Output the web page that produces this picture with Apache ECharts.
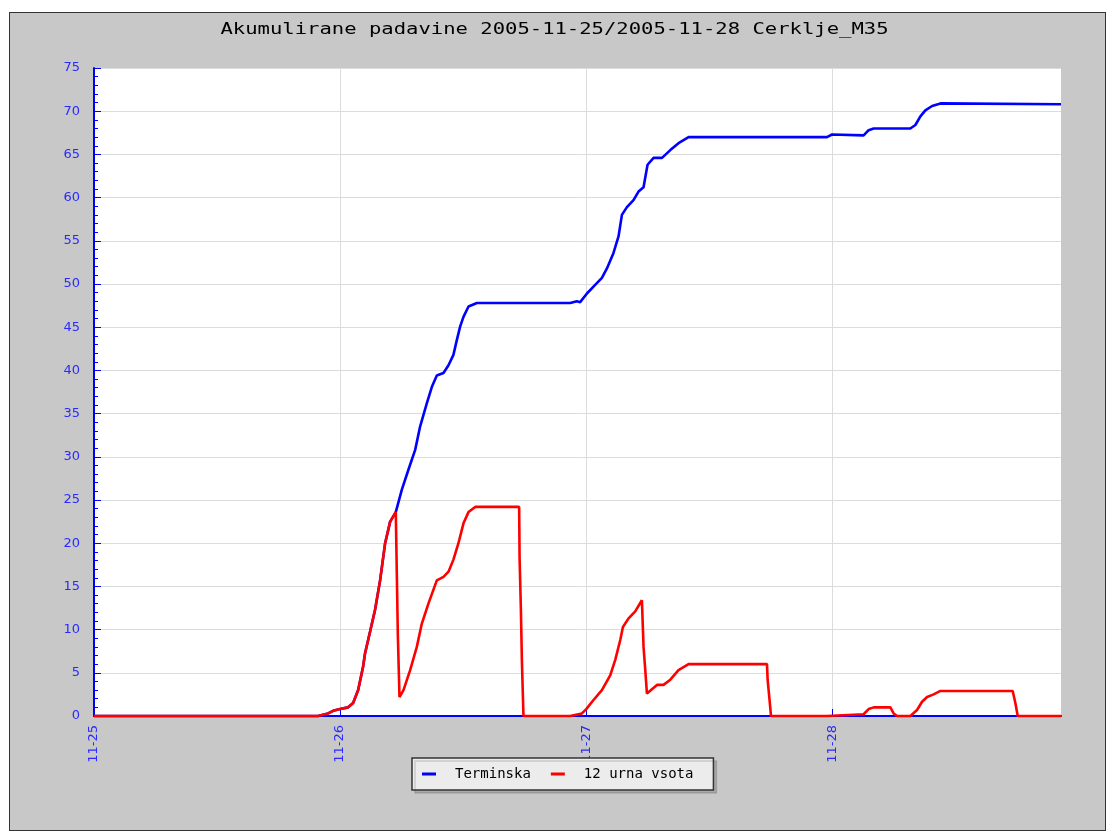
<!DOCTYPE html>
<html>
<head>
<meta charset="UTF-8">
<title>Akumulirane padavine</title>
<style>
    html, body { margin: 0; padding: 0; background: #fff; }
    #frame {
        position: absolute; left: 9px; top: 12px;
        width: 1095px; height: 817px;
        background: #c8c8c8; border: 1px solid #333;
    }
    #main { position: absolute; left: 0; top: 0; width: 1109px; height: 832px; }
</style>
</head>
<body>
<div id="frame"></div>
<div id="main"></div>
<script src="https://cdn.jsdelivr.net/npm/echarts@6/dist/echarts.min.js"></script>
<script>
// hours since 2005-11-25 00:00
var dayLabels = ['11-25', '11-26', '11-27', '11-28'];
var dayHours = [0, 24, 48, 72];

var terminskaHours = [0, 21.85, 21.88, 22.83, 23.32, 24.0, 24.78, 25.27, 25.76, 26.24, 26.44, 26.93, 27.41, 27.9, 28.39, 28.88, 29.43,
    29.53, 30.02, 30.66, 31.32, 31.8, 32.46, 32.95, 33.43, 34.08, 34.57, 35.05, 35.38, 35.71, 36.03, 36.52, 37.34,
    46.44, 47.09, 47.41, 48.07, 48.71, 49.53, 50.02, 50.66, 51.15, 51.48, 51.97, 52.61, 53.1, 53.59, 53.98, 54.57,
    55.39, 56.2, 57.0, 57.98, 71.48, 71.97, 75.05, 75.54, 76.03, 79.61, 80.1, 80.59, 81.07, 81.73, 82.54, 94.3];
var terminskaValues = [0, 0, 0.1, 0.3, 0.6, 0.8, 1.0, 1.5, 3.0, 5.7, 7.3, 9.8, 12.3, 15.7, 20.0, 22.5, 23.6,
    23.8, 26.2, 28.5, 30.8, 33.5, 36.2, 38.1, 39.4, 39.7, 40.6, 41.8, 43.5, 45.1, 46.2, 47.4, 47.8,
    47.8, 48.0, 47.9, 48.9, 49.7, 50.7, 51.8, 53.6, 55.5, 58.0, 58.9, 59.7, 60.7, 61.2, 63.8, 64.6,
    64.6, 65.5, 66.3, 67.0, 67.0, 67.3, 67.2, 67.8, 68.0, 68.0, 68.4, 69.4, 70.1, 70.6, 70.9, 70.8];

var vsotaHours = [0, 21.85, 21.88, 22.83, 23.32, 24.0, 24.78, 25.27, 25.76, 26.24, 26.44, 26.93, 27.41, 27.9, 28.39, 28.88, 29.43,
    29.53, 29.63, 29.79, 30.18, 30.83, 31.48, 31.97, 32.61, 33.43, 34.08, 34.57, 35.05, 35.54, 36.03, 36.52, 37.17,
    41.46, 41.5, 41.63, 41.73, 41.88, 46.44, 46.5, 47.58, 48.0, 48.71, 49.53, 50.34, 50.83, 51.32, 51.58, 52.13,
    52.78, 53.43, 53.59, 53.76, 53.92, 54.9, 55.54, 56.2, 57.0, 57.98, 65.63, 65.69, 65.88, 66.02, 71.48, 71.6,
    75.05, 75.54, 76.03, 77.66, 77.98, 78.31, 79.61, 80.26, 80.75, 81.24, 81.88, 82.54, 89.59, 89.85, 90.08, 94.3];
var vsotaValues = [0, 0, 0.1, 0.3, 0.6, 0.8, 1.0, 1.5, 3.0, 5.7, 7.3, 9.8, 12.3, 15.7, 20.0, 22.5, 23.6,
    16.5, 9.4, 2.2, 3.0, 5.3, 8.0, 10.7, 13.0, 15.7, 16.1, 16.7, 18.1, 20.0, 22.3, 23.6, 24.2,
    24.2, 18.4, 12.3, 6.3, 0, 0, 0.2, 0.3, 0.8, 1.85, 3.0, 4.7, 6.5, 8.8, 10.3, 11.3,
    12.1, 13.4, 8.0, 5.3, 2.6, 3.6, 3.6, 4.2, 5.3, 6.0, 6.0, 4.2, 1.85, 0, 0, 0.2,
    0.2, 0.8, 1.0, 1.0, 0.3, 0, 0, 0.7, 1.65, 2.2, 2.5, 2.9, 2.9, 1.5, 0, 0];

function zip(xs, ys) {
    var out = [];
    for (var i = 0; i < xs.length; i++) out.push([xs[i], ys[i]]);
    return out;
}

var myChart = echarts.init(document.getElementById('main'));
var mono = '"DejaVu Sans Mono", monospace';
var blue = '#0000ff';

var option = {
    backgroundColor: 'transparent',
    animation: false,
    graphic: [{
        type: 'text',
        left: 'center',
        top: 23,
        scaleX: 1.37,
        style: {
            text: 'Akumulirane padavine 2005-11-25/2005-11-28 Cerklje_M35',
            font: '15px ' + mono,
            fill: '#000'
        }
    }],
    grid: {
        left: 94, right: 48, top: 68, bottom: 116,
        show: true, backgroundColor: '#fff', borderWidth: 0
    },
    legend: {
        left: 412, top: 758,
        padding: [9, 20, 9, 10],
        itemGap: 20,
        itemWidth: 14, itemHeight: 3,
        icon: 'rect',
        backgroundColor: '#ececec',
        borderColor: '#333', borderWidth: 1.5,
        shadowColor: 'rgba(0,0,0,0.15)', shadowOffsetX: 3, shadowOffsetY: 3, shadowBlur: 0,
        textStyle: { fontFamily: mono, fontSize: 14, color: '#000', padding: [0, 0, 0, 14] },
        data: ['Terminska', '12 urna vsota']
    },
    xAxis: {
        type: 'value',
        min: 0, max: 94.3, interval: 24,
        axisLine: { lineStyle: { color: blue, width: 2 } },
        axisTick: { inside: true, length: 7, customValues: dayHours, lineStyle: { color: blue } },
        axisLabel: {
            rotate: 90, margin: 9, color: '#2a2aff', fontSize: 13, fontFamily: 'DejaVu Sans',
            customValues: dayHours,
            formatter: function (v) {
                return dayLabels[dayHours.indexOf(v)] || '';
            }
        },
        splitLine: { show: true, lineStyle: { color: '#dcdcdc', width: 1 } }
    },
    yAxis: {
        type: 'value',
        min: 0, max: 75, interval: 5,
        axisLine: { show: true, lineStyle: { color: blue, width: 2 } },
        axisTick: { show: true, inside: true, length: 7, lineStyle: { color: blue } },
        minorTick: { show: true, splitNumber: 5, length: 4, lineStyle: { color: blue } },
        axisLabel: { margin: 14, color: '#2a2aff', fontSize: 13, fontFamily: 'DejaVu Sans' },
        splitLine: { show: true, lineStyle: { color: '#dcdcdc', width: 1 } }
    },
    series: [
        {
            name: 'Terminska',
            type: 'line',
            data: zip(terminskaHours, terminskaValues),
            showSymbol: false,
            clip: false,
            color: blue,
            lineStyle: { color: blue, width: 2.6 }
        },
        {
            name: '12 urna vsota',
            type: 'line',
            data: zip(vsotaHours, vsotaValues),
            showSymbol: false,
            clip: false,
            color: '#ff0000',
            lineStyle: { color: '#ff0000', width: 2.6 }
        }
    ]
};
myChart.setOption(option);
</script>
</body>
</html>
